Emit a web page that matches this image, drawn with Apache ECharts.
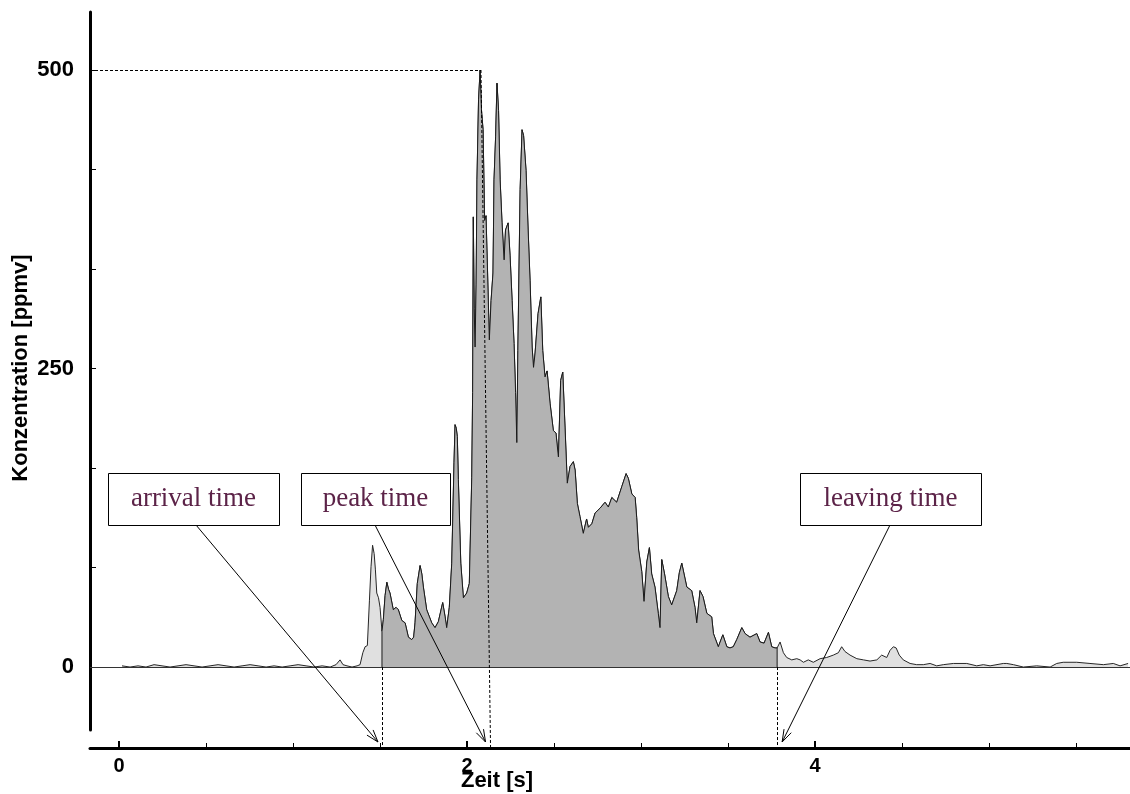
<!DOCTYPE html>
<html><head><meta charset="utf-8">
<script src="https://cdn.jsdelivr.net/npm/echarts@6/dist/echarts.min.js"></script>
<style>html,body{margin:0;padding:0;background:#fff}#c{width:1130px;height:794px}</style>
</head><body><div id="c"></div>
<script>
// ---- data ----
const timeS = [
0.017,0.063,0.109,0.155,0.201,0.247,0.293,0.339,0.385,0.431,0.477,0.523,0.569,0.615,0.661,0.707,0.753,0.799,0.845,0.891,0.937,0.983,1.029,1.075,1.121,1.167,1.213,1.247,1.270,1.287,1.310,1.339,1.368,1.385,
1.401,1.414,1.427,1.439,1.448,1.457,1.466,1.473,1.481,1.491,1.500,1.511,
1.519,1.529,1.539,1.549,1.557,1.576,1.592,1.605,1.625,1.644,1.663,1.682,1.693,1.701,1.714,1.730,1.740,1.749,1.768,1.797,1.816,1.835,1.860,1.874,1.883,1.898,1.912,1.925,1.931,1.938,1.944,1.950,1.964,1.979,1.998,2.013,2.027,2.032,2.036,2.041,2.046,2.052,2.057,2.066,2.075,2.083,2.092,2.101,2.109,2.118,2.128,2.138,2.149,2.155,2.164,2.172,2.181,2.190,2.201,2.213,2.221,2.236,2.247,2.259,2.270,2.279,2.286,2.292,2.305,2.316,2.325,2.339,2.351,2.362,2.374,2.382,2.391,2.408,2.424,2.435,2.448,2.460,2.477,2.496,2.511,2.525,2.530,2.538,2.550,2.563,2.576,2.592,2.611,2.621,2.634,2.649,2.668,2.687,2.697,2.717,2.736,2.764,2.793,2.812,2.832,2.860,2.889,2.914,2.927,2.947,2.966,2.975,2.986,3.004,3.017,3.033,3.048,3.061,3.080,3.099,3.109,3.119,3.135,3.157,3.176,3.205,3.220,3.234,3.263,3.291,3.310,3.320,3.339,3.356,3.378,3.406,3.416,3.444,3.470,3.493,3.511,3.530,3.550,3.579,3.598,3.626,3.665,3.684,3.707,3.732,3.751,3.770,3.782,
3.799,3.818,3.837,3.866,3.895,3.914,3.933,3.961,3.990,4.029,4.067,4.105,4.134,4.153,4.172,4.201,4.240,4.278,4.316,4.355,4.383,4.412,4.431,4.450,4.466,4.484,4.507,4.546,4.584,4.622,4.661,4.699,4.737,4.795,4.833,4.872,4.929,4.967,5.006,5.082,5.102,5.140,5.197,5.274,5.351,5.389,5.426,5.504,5.580,5.657,5.714,5.753,5.799
];
const concPpmv = [
1,0,1,0,2,1,0,1,2,1,0,1,2,1,0,1,2,1,0,1,0,1,2,1,0,1,0,2,6,2,1,0,1,2,
12,17,18,56,84,102,95,82,62,58,50,30,
40,60,71,65,62,48,50,48,39,37,25,23,25,37,70,85,78,67,48,37,33,38,54,42,33,50,87,171,203,200,193,157,87,58,62,70,159,230,377,300,268,320,408,475,500,466,450,374,378,330,274,307,330,408,444,489,466,408,372,341,366,372,345,307,271,230,188,265,400,450,445,416,366,324,268,251,263,296,310,265,243,248,221,198,196,176,175,240,247,201,154,168,172,165,137,126,112,124,117,120,129,133,138,134,142,138,151,162,158,145,142,125,98,80,55,88,100,78,67,45,33,90,78,59,52,64,79,87,67,64,50,37,64,59,45,42,28,17,27,17,16,17,23,33,28,25,28,21,20,29,17,16,16,
21,12,8,6,7,6,4,6,4,7,8,10,12,17,13,10,7,6,5,6,10,8,14,17,16,10,6,3,2,2,3,1,2,3,3,3,1,2,1,3,3,2,0,1,0,3,4,4,3,2,3,1,3
];
const arrivalT = 1.511, leavingT = 3.782;
const peakT = 2.080, peakTBottom = 2.135, peakC = 500;
const xTicks = [0,0.5,1,1.5,2,2.5,3,3.5,4,4.5,5,5.5];
const xTickLabels = [0,2,4];
const yTicks = [0,83.33,166.67,250,333.33,416.67,500];
const yTickLabels = [0,250,500];
const annotationTexts = ['arrival time','peak time','leaving time'];
const xAxisTitle = 'Zeit [s]', yAxisTitle = 'Konzentration [ppmv]';

// ---- axis ranges ----
const xMin = -0.167, xMax = 5.81;
const yMax = 548.6, yMinPlot = -67.8, yMinAxis = -52.8;

const full = timeS.map((t,i)=>[t, concPpmv[i]]);
const inner = [[arrivalT,0]].concat(full.filter(p=>p[0]>=arrivalT && p[0]<=leavingT)).concat([[leavingT,0]]);

const SANS = "'Liberation Sans',Arial,sans-serif";
const SERIF = "'Liberation Serif','Times New Roman',serif";
const dash = {type:[3,2], width:1, color:'#000'};

const chart = echarts.init(document.getElementById('c'), null, {renderer:'canvas'});
chart.setOption({
  animation:false,
  backgroundColor:'#fff',
  grid:[
    {left:90,right:0,top:12,bottom:46,containLabel:false,outerBoundsMode:'none'},
    {left:90,right:0,top:12,bottom:64,containLabel:false,outerBoundsMode:'none'}
  ],
  xAxis:[
    {type:'value',gridIndex:0,min:xMin,max:xMax,position:'bottom',
     axisLine:{onZero:false,lineStyle:{color:'#000',width:3}},
     axisTick:{show:true,inside:true,length:5,customValues:xTicks,lineStyle:{color:'#000',width:1}},
     axisLabel:{customValues:xTickLabels,fontFamily:SANS,fontSize:20,fontWeight:'bold',color:'#000',margin:8},
     splitLine:{show:false}},
    {type:'value',gridIndex:1,min:xMin,max:xMax,position:'bottom',offset:18,
     axisLine:{show:false,onZero:false},
     axisTick:{show:true,inside:true,length:7,customValues:xTickLabels,lineStyle:{color:'#000',width:2}},
     axisLabel:{show:false},splitLine:{show:false}}
  ],
  yAxis:[
    {type:'value',gridIndex:0,min:yMinPlot,max:yMax,show:false,splitLine:{show:false}},
    {type:'value',gridIndex:1,min:yMinAxis,max:yMax,position:'left',
     axisLine:{show:true,onZero:false,lineStyle:{color:'#000',width:3}},
     axisTick:{show:true,inside:true,length:6,customValues:yTicks,lineStyle:{color:'#000',width:1}},
     axisLabel:{customValues:yTickLabels,fontFamily:SANS,fontSize:22,fontWeight:'bold',color:'#000',margin:16},
     splitLine:{show:false}}
  ],
  series:[
    {type:'line',xAxisIndex:0,yAxisIndex:0,data:full,symbol:'none',z:2,
     lineStyle:{color:'#262626',width:1},areaStyle:{color:'#e0e0e0',opacity:1}},
    {type:'line',xAxisIndex:0,yAxisIndex:0,data:inner,symbol:'none',z:3,
     lineStyle:{color:'#1a1a1a',width:1},areaStyle:{color:'#b3b3b3',opacity:1},
     markLine:{silent:true,symbol:['none','none'],label:{show:false},animation:false,
       data:[
         [{coord:[xMin,0],lineStyle:{type:'solid',width:1,color:'#333'}},{coord:[xMax,0]}],
         [{coord:[xMin,peakC],lineStyle:dash},{coord:[peakT,peakC]}],
         [{coord:[peakT,peakC],lineStyle:dash},{coord:[peakTBottom,yMinPlot]}],
         [{coord:[arrivalT,0],lineStyle:dash},{coord:[arrivalT,yMinPlot]}],
         [{coord:[leavingT,0],lineStyle:dash},{coord:[leavingT,yMinPlot]}]
       ]}}
  ]
});

// ---- annotations ----
const boxes = [
  {x:108,y:473,w:171,h:52,start:[196,525],t:arrivalT,dx:-4},
  {x:301,y:473,w:149,h:52,start:[375,525],t:peakTBottom,dx:-5},
  {x:800,y:473,w:181,h:52,start:[890,525],t:leavingT,dx:5}
];
const g = [];
boxes.forEach((b,i)=>{
  const tip = chart.convertToPixel({gridIndex:0},[b.t,yMinPlot]);
  const tx = tip[0]+b.dx, ty = tip[1]-6;
  const sx=b.start[0], sy=b.start[1];
  const L=Math.hypot(tx-sx,ty-sy), ux=(tx-sx)/L, uy=(ty-sy)/L;
  const a=18*Math.PI/180, hl=13;
  const h1=[tx-hl*(ux*Math.cos(a)-uy*Math.sin(a)), ty-hl*(uy*Math.cos(a)+ux*Math.sin(a))];
  const h2=[tx-hl*(ux*Math.cos(a)+uy*Math.sin(a)), ty-hl*(uy*Math.cos(a)-ux*Math.sin(a))];
  g.push({type:'line',shape:{x1:sx,y1:sy,x2:tx,y2:ty},style:{stroke:'#000',lineWidth:1},z:10});
  g.push({type:'polyline',shape:{points:[h1,[tx,ty],h2]},style:{stroke:'#000',lineWidth:1,fill:null},z:10});
  g.push({type:'rect',shape:{x:b.x+0.5,y:b.y+0.5,width:b.w,height:b.h},style:{fill:'#fff',stroke:'#000',lineWidth:1},z:11});
  g.push({type:'text',x:b.x+b.w/2,y:b.y+b.h/2,style:{text:annotationTexts[i],fontFamily:SERIF,fontSize:27,fill:'#5c2348',align:'center',verticalAlign:'middle'},z:12});
});
g.push({type:'text',x:497,y:781,style:{text:xAxisTitle,fontFamily:SANS,fontSize:22,fontWeight:'bold',fill:'#000',align:'center',verticalAlign:'middle'},z:12});
g.push({type:'text',x:21,y:368,rotation:Math.PI/2,style:{text:yAxisTitle,fontFamily:SANS,fontSize:22,fontWeight:'bold',fill:'#000',align:'center',verticalAlign:'middle'},z:12});
chart.setOption({graphic:g});
</script></body></html>
